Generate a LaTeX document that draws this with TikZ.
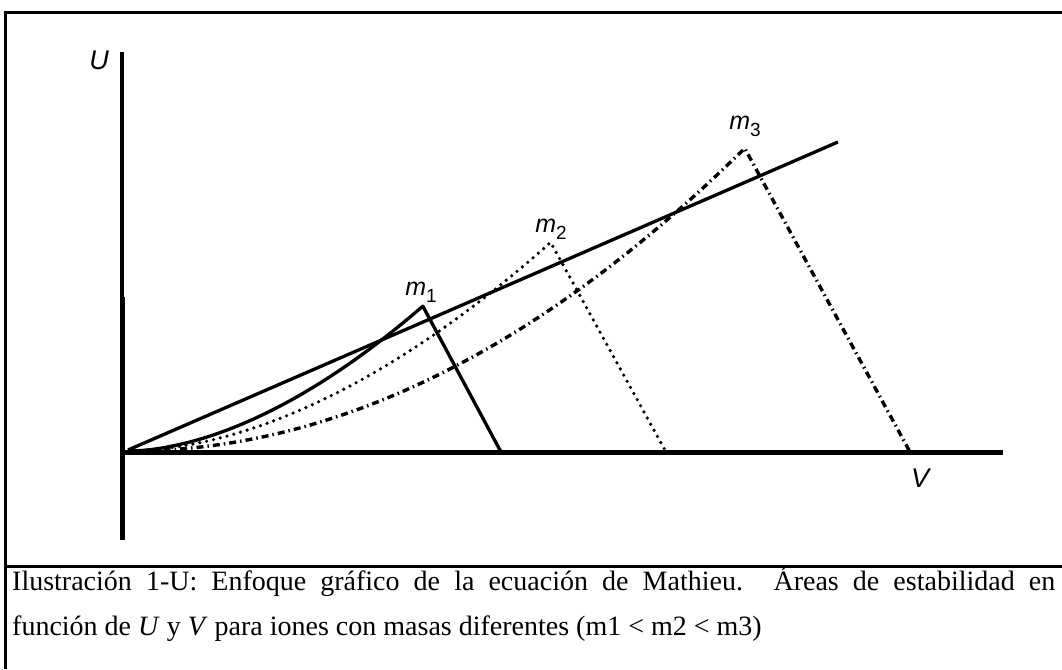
\documentclass[tikz,border=0pt]{standalone}
\usepackage{fontspec}
\setmainfont{Liberation Serif}
\newfontfamily\lblfont{Liberation Sans}
\begin{document}
\begin{tikzpicture}[x=1pt,y=-1pt,
  framel/.style={line width=3pt},
  axisl/.style={line width=5pt},
  thinaxis/.style={line width=3.4pt},
  sol/.style={line width=3.3pt, line join=round},
  dotl/.style={line width=3.6pt, dash pattern=on 0pt off 7pt, line cap=round},
  dashdotl/.style={line width=3.4pt, dash pattern=on 7pt off 4pt on 1.5pt off 4pt},
  lbl/.style={font=\lblfont\itshape\fontsize{27}{27}\selectfont, inner sep=0pt},
  mlbl/.style={font=\lblfont\fontsize{25}{25}\selectfont, inner sep=0pt},
  captext/.style={font=\fontsize{28}{28}\selectfont, inner sep=0pt, anchor=base west}]
\useasboundingbox (0,0) rectangle (1062,669);
% frame
\draw[framel] (1062,13) -- (5,13) -- (5,669);
\draw[framel] (5,566) -- (1062,566);
% axes
\coordinate (ytop) at (122,52);
\coordinate (ymid) at (122,297);
\coordinate (ybot) at (122,540);
\coordinate (xl) at (122,452);
\coordinate (xr) at (1003,452);
\draw[thinaxis] (ytop) -- (ymid);
\draw[axisl] (ymid) -- (ybot);
\draw[axisl] (xl) -- (xr);
% operating line
\coordinate (O) at (128,450);
\coordinate (L) at (838,142);
\draw[sol] (O) -- (L);
% stability regions
\coordinate (a1) at (423,306);
\coordinate (f1) at (501,452);
\coordinate (a2) at (551,242);
\coordinate (f2) at (666,452);
\coordinate (a3) at (745,148);
\coordinate (f3) at (910,452);
\draw[sol] plot[domain=0.001:1, samples=60] ({130+293*\x},{451-145*pow(\x,1.75)}) -- (f1);
\draw[dotl] plot[domain=0.001:1, samples=80] ({130+421*\x},{451-209*pow(\x,1.8)}) -- (f2);
\draw[dashdotl] plot[domain=0.001:1, samples=100] ({130+615*\x},{451-303*pow(\x,2)}) -- (f3);
% labels
\node[lbl] (U) at (99,60) {U};
\node[lbl] (V) at (920,478) {V};
\node[mlbl] (m1) at (421,292) {\itshape m\raisebox{-7pt}{\fontsize{19}{19}\selectfont\upshape 1}};
\node[mlbl] (m2) at (551,229) {\itshape m\raisebox{-7pt}{\fontsize{19}{19}\selectfont\upshape 2}};
\node[mlbl] (m3) at (745,126) {\itshape m\raisebox{-7pt}{\fontsize{19}{19}\selectfont\upshape 3}};
% caption
\node[captext] (c1) at (12,590) {\makebox[1043pt][s]{Ilustración 1-U: Enfoque gráfico de la ecuación de Mathieu. Áreas de estabilidad en}};
\node[captext] (c2) at (12,635) {función de \textit{U} y \textit{V} para iones con masas diferentes (m1 < m2 < m3)};
\end{tikzpicture}
\end{document}
